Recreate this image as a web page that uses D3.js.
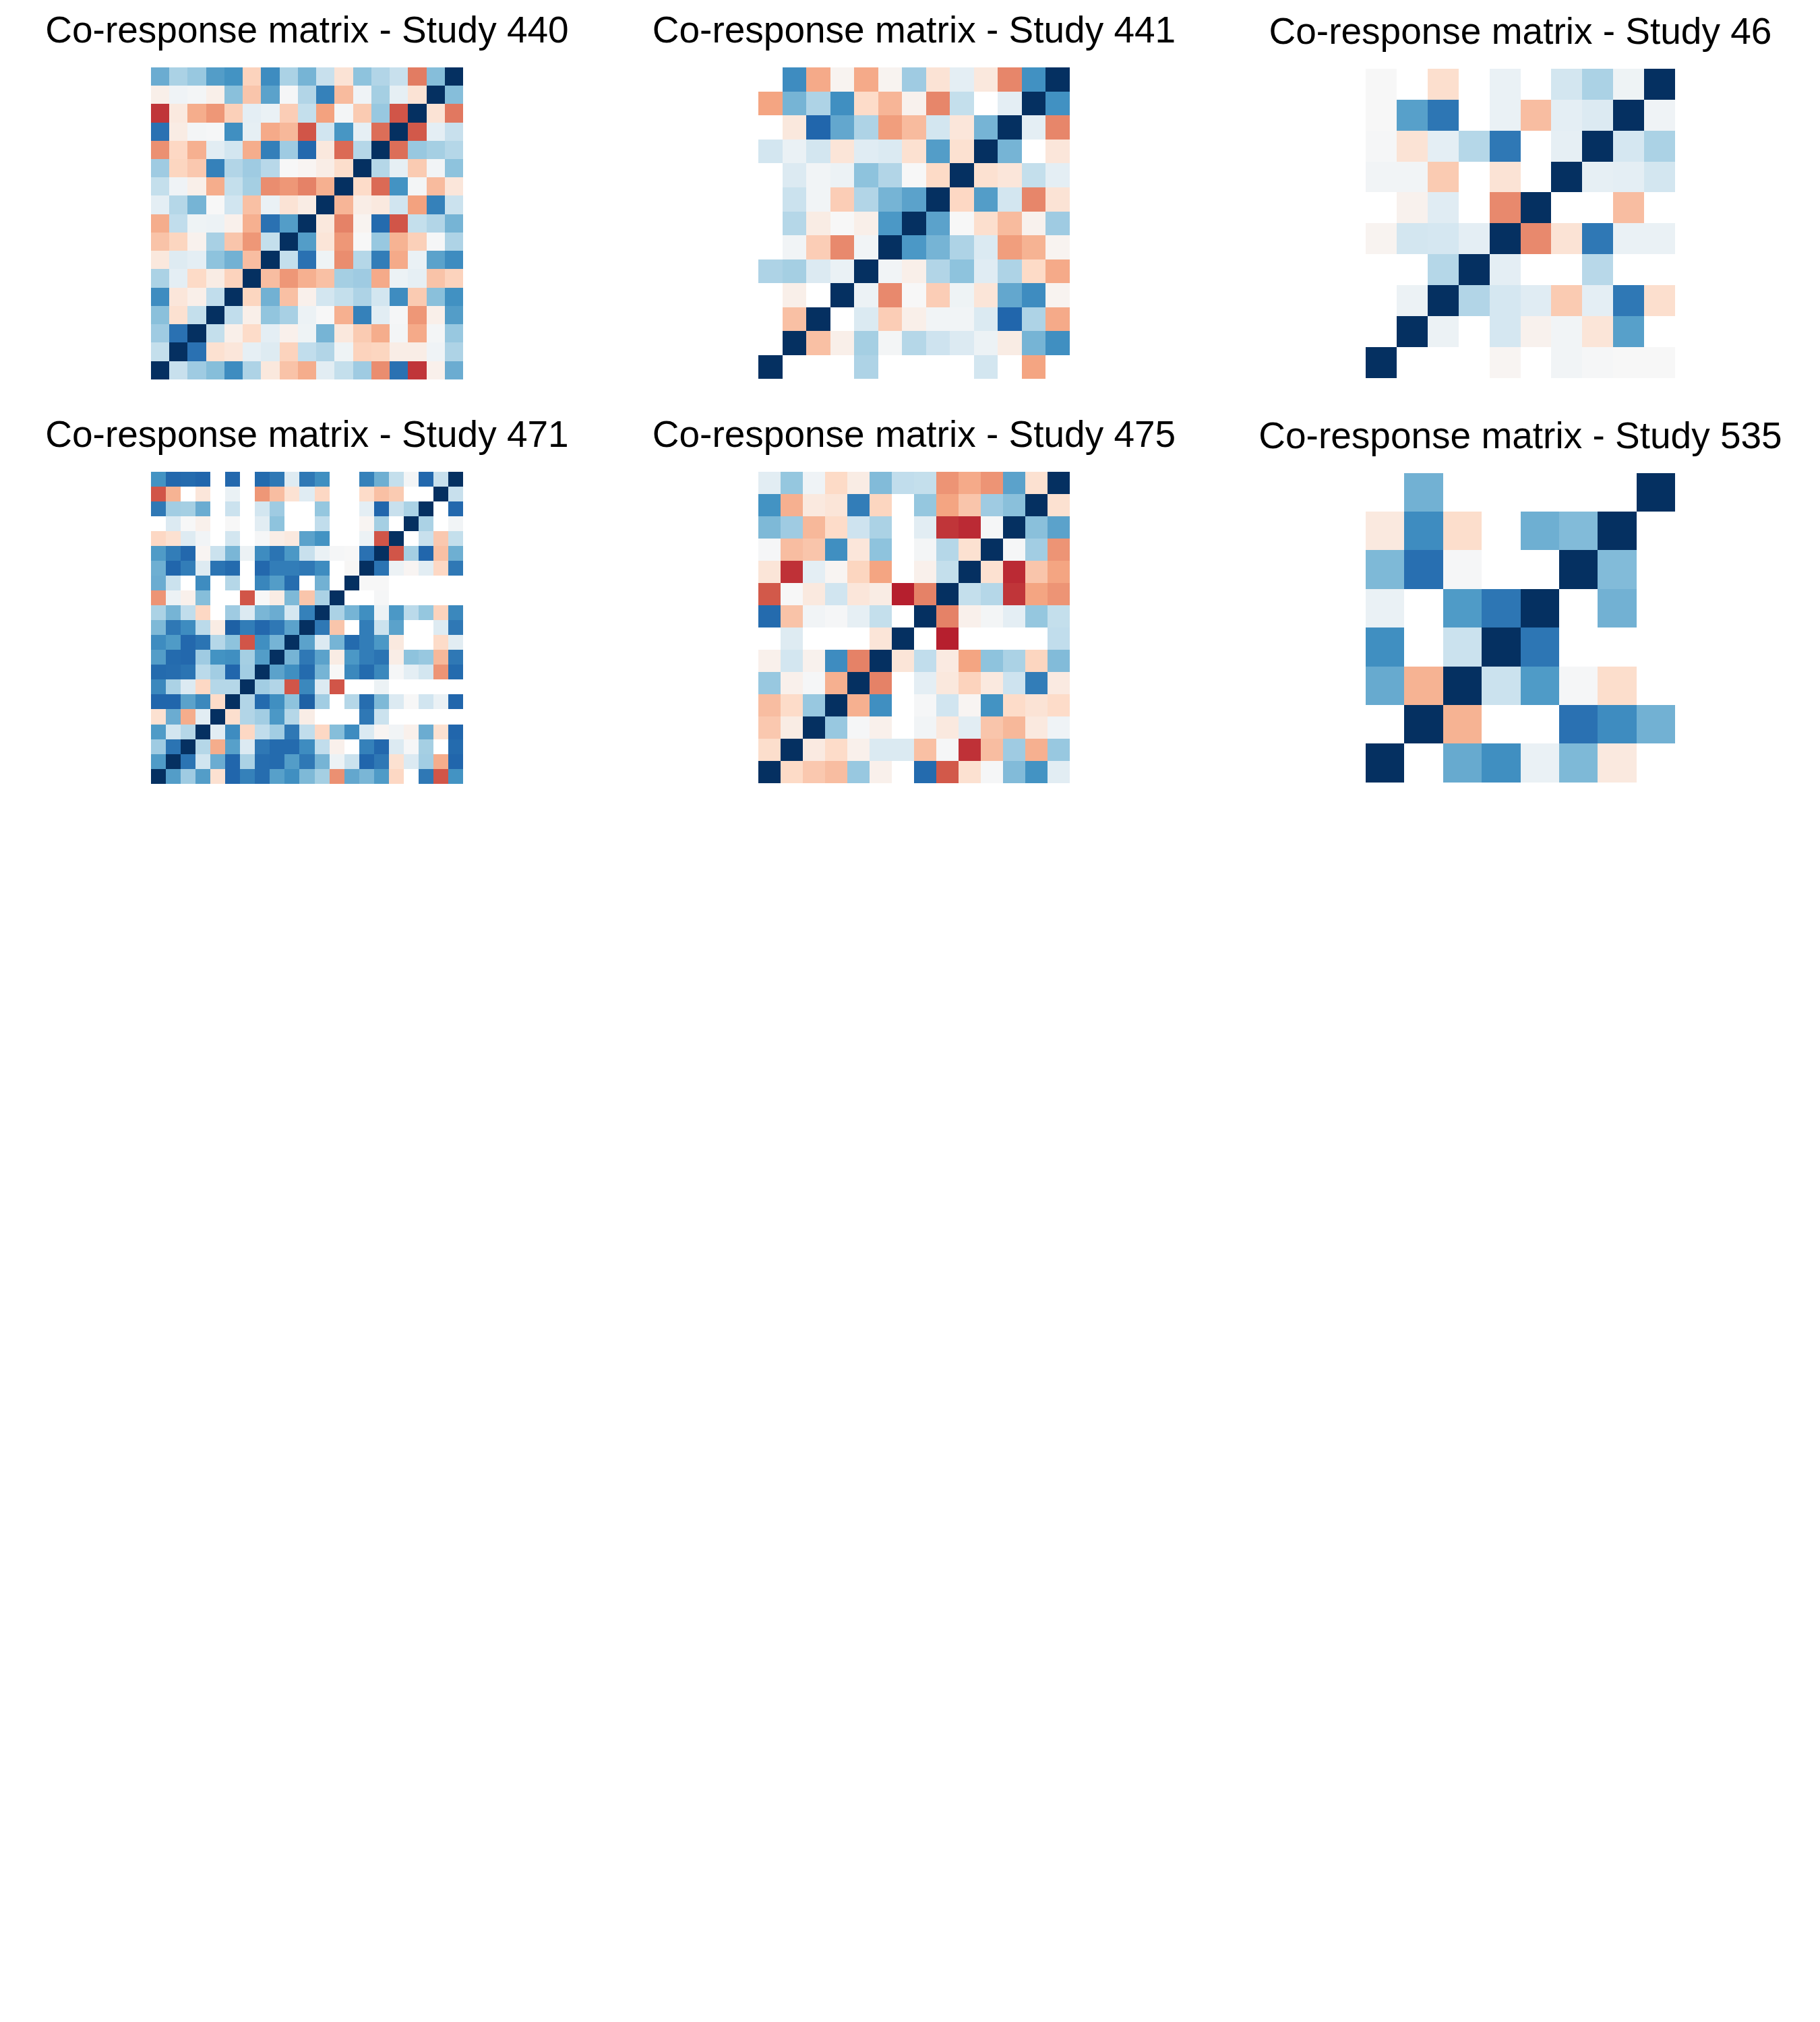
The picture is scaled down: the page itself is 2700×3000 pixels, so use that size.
<!DOCTYPE html>
<html><head><meta charset="utf-8">
<script src="https://cdn.jsdelivr.net/npm/d3@7"></script>
<style>body{margin:0;background:#fff} svg{display:block}</style>
</head><body>
<svg id="chart" width="2700" height="3000"></svg>
<script>
const N = null; // NaN cells (left blank)

const studyIds = ["440", "441", "46", "471", "475", "535"];

// rows listed top-to-bottom as displayed
const matrix440 = [
[0.5,0.32,0.38,0.56,0.6,-0.23,0.63,0.32,0.47,0.23,-0.14,0.41,0.3,0.23,-0.52,0.43,1],
[-0.06,0.04,0.02,-0.06,0.42,-0.28,0.54,0.01,0.3,0.68,-0.32,0.04,0.34,0.09,-0.14,1,0.43],
[-0.72,-0.1,-0.37,-0.44,-0.24,0.1,0.07,-0.25,0.24,-0.41,0.02,-0.26,0.38,-0.63,1,-0.14,-0.53],
[0.75,-0.08,0.02,0.01,0.62,0.09,-0.38,-0.33,-0.63,0.2,0.59,0.09,-0.56,1,-0.62,0.1,0.23],
[-0.46,-0.21,-0.36,0.11,0.19,-0.37,0.69,0.36,0.79,-0.11,-0.57,0.29,1,-0.56,0.38,0.34,0.29],
[0.36,-0.22,-0.27,0.68,0.3,0.36,0.28,0,-0.02,-0.07,-0.18,1,0.29,0.09,-0.26,0.03,0.41],
[0.24,0.04,-0.06,-0.37,0.24,0.34,-0.47,-0.44,-0.5,-0.36,1,-0.19,-0.57,0.6,0.02,-0.32,-0.12],
[0.1,0.29,0.47,0,0.2,-0.3,0.07,-0.14,-0.08,1,-0.34,-0.07,-0.1,0.2,-0.41,0.68,0.22],
[-0.37,0.25,0.05,0.06,-0.05,-0.36,0.75,0.56,1,-0.11,-0.5,-0.03,0.78,-0.63,0.24,0.3,0.47],
[-0.29,-0.22,-0.04,0.33,-0.28,-0.44,0.24,1,0.56,-0.13,-0.44,0,0.38,-0.35,-0.24,0.01,0.31],
[-0.11,0.13,0.1,0.41,0.48,-0.31,1,0.24,0.75,0.05,-0.47,0.29,0.7,-0.38,0.07,0.54,0.63],
[0.32,0.1,-0.2,-0.08,-0.23,1,-0.31,-0.44,-0.36,-0.3,0.34,0.36,-0.38,0.06,0.09,-0.29,-0.23],
[0.63,-0.12,-0.06,0.25,1,-0.22,0.48,-0.3,-0.05,0.19,0.24,0.31,0.19,0.63,-0.26,0.42,0.61],
[0.42,-0.16,0.24,1,0.25,-0.06,0.4,0.33,0.06,0,-0.36,0.68,0.11,0.01,-0.44,-0.06,0.56],
[0.36,0.75,1,0.24,-0.06,-0.19,0.1,-0.05,0.05,0.47,-0.11,-0.26,-0.37,0.02,-0.38,0.02,0.38],
[0.24,1,0.75,-0.16,-0.12,0.09,0.13,-0.23,0.25,0.3,0.05,-0.23,-0.22,-0.07,-0.07,0.04,0.31],
[1,0.23,0.36,0.43,0.63,0.31,-0.11,-0.29,-0.37,0.11,0.24,0.36,-0.47,0.75,-0.72,-0.05,0.5]
];

const matrix441 = [
[N,0.63,-0.38,-0.03,-0.38,-0.03,0.36,-0.14,0.1,-0.11,-0.49,0.61,1],
[-0.4,0.47,0.31,0.62,-0.19,-0.34,-0.04,-0.49,0.24,N,0.1,1,0.61],
[N,-0.11,0.8,0.52,0.31,-0.42,-0.32,0.19,-0.12,0.47,1,0.1,-0.49],
[0.19,0.07,0.19,-0.13,0.12,0.15,-0.16,0.56,-0.16,1,0.47,N,-0.12],
[N,0.14,0.03,0.06,0.41,0.3,0,-0.2,1,-0.16,-0.12,0.24,0.1],
[N,0.22,0.03,-0.25,0.3,0.47,0.54,1,-0.21,0.56,0.19,-0.49,-0.14],
[N,0.29,-0.08,0,-0.06,0.58,1,0.54,0,-0.17,-0.32,-0.04,0.36],
[N,0.03,-0.25,-0.48,0.03,1,0.58,0.47,0.31,0.15,-0.42,-0.35,-0.03],
[0.31,0.34,0.14,0.07,1,0.03,-0.06,0.3,0.41,0.12,0.31,-0.2,-0.38],
[N,-0.06,N,1,0.06,-0.48,0,-0.25,0.05,-0.13,0.52,0.63,-0.03],
[N,-0.3,1,N,0.15,-0.25,-0.06,0.03,0.03,0.15,0.8,0.31,-0.38],
[N,1,-0.3,-0.06,0.34,0.02,0.29,0.21,0.14,0.06,-0.08,0.47,0.62],
[1,N,N,N,0.31,N,N,N,N,0.19,N,-0.4,N]
];

const matrix46 = [
[0,N,-0.17,N,0.07,N,0.19,0.32,0.05,1],
[0,0.55,0.73,N,0.07,-0.31,0.1,0.14,1,0.04],
[0.01,-0.14,0.1,0.29,0.72,N,0.09,1,0.18,0.32],
[0.03,0.03,-0.26,N,-0.14,N,1,0.09,0.1,0.19],
[N,-0.04,0.12,N,-0.48,1,N,N,-0.31,N],
[-0.03,0.19,0.18,0.1,1,-0.48,-0.14,0.72,0.07,0.07],
[N,N,0.29,1,0.1,N,N,0.28,N,N],
[N,0.06,1,0.3,0.18,0.12,-0.26,0.1,0.72,-0.17],
[N,1,0.06,N,0.18,-0.04,0.03,-0.13,0.55,N],
[1,N,N,N,-0.02,N,0.03,0.01,0,0]
];

const matrix471 = [
[0.6,0.79,0.78,0.8,N,0.79,N,0.78,0.72,0.13,0.72,0.62,N,N,0.68,0.49,0.24,0.02,0.79,0.23,1],
[-0.63,-0.35,N,-0.12,N,0.07,N,-0.44,-0.31,-0.15,0.12,-0.21,N,N,-0.19,-0.3,-0.26,N,N,1,0.23],
[0.72,0.35,0.34,0.5,N,0.22,N,0.19,0.36,N,N,0.39,N,N,0.1,0.8,0.23,0.32,1,N,0.79],
[N,0.14,0,-0.05,N,0,N,0.11,0.41,N,N,0.25,N,N,-0.02,0.34,N,1,0.32,N,0.03],
[-0.21,-0.16,0.13,0.03,N,0.19,N,0.01,-0.07,-0.1,0.54,0.6,N,N,0.06,-0.63,1,N,0.23,-0.27,0.24],
[0.57,0.7,0.79,-0.02,0.22,0.46,0.06,0.63,0.74,0.58,0.23,0.07,0.01,0,0.75,1,-0.63,0.34,0.8,-0.3,0.49],
[0.49,0.8,0.7,0.13,0.74,0.78,N,0.79,0.7,0.7,0.72,0.63,N,-0.01,1,0.74,0.06,-0.02,0.11,-0.21,0.72],
[0.5,0.22,N,0.63,N,0.29,N,0.66,0.56,0.77,N,0.48,N,1,0,0,N,N,N,N,N],
[-0.45,0.06,-0.05,0.43,N,N,-0.63,0,-0.08,0.45,-0.28,0.32,1,N,N,0.01,N,N,N,N,N],
[0.32,0.47,0.25,-0.21,N,0.36,0.14,0.46,0.5,0.18,0.68,1,0.32,0.47,0.62,0.06,0.58,0.27,0.39,-0.23,0.65],
[0.45,0.72,0.63,0.27,-0.08,0.82,0.7,0.79,0.72,0.54,1,0.72,-0.28,N,0.7,0.22,0.54,N,N,0.13,0.72],
[0.63,0.57,0.79,0.74,0.29,0.41,-0.63,0.62,0.47,1,0.54,0.14,0.47,0.78,0.7,0.58,-0.1,N,N,-0.19,0.11],
[0.56,0.78,0.79,0.36,0.6,0.62,0.34,0.56,1,0.47,0.72,0.54,-0.08,0.58,0.7,0.74,-0.07,0.41,0.38,-0.33,0.72],
[0.78,0.77,0.74,0.27,0.35,0.8,0.35,1,0.54,0.62,0.78,0.47,0,0.65,0.78,0.65,0.01,0.1,0.19,-0.45,0.78],
[0.65,0.32,0.14,-0.21,0.29,0.29,1,0.35,0.3,-0.63,0.65,0.14,-0.63,N,N,0.06,N,N,N,N,N],
[0.8,0.8,0.54,0.65,-0.19,1,0.3,0.78,0.62,0.41,0.82,0.35,N,0.29,0.77,0.45,0.14,0,0.2,0.07,0.8],
[-0.16,0.5,-0.37,0.11,1,-0.17,0.3,0.35,0.58,0.29,-0.07,N,N,N,0.72,0.22,N,N,N,N,N],
[0.57,0.19,0.29,1,0.11,0.63,-0.21,0.25,0.35,0.72,0.25,-0.21,0.43,0.63,0.15,-0.02,0.03,-0.05,0.5,-0.16,0.8],
[0.36,0.74,1,0.29,-0.37,0.55,0.14,0.72,0.78,0.78,0.63,0.25,-0.05,N,0.68,0.79,0.14,0.01,0.34,N,0.78],
[0.57,1,0.74,0.2,0.5,0.8,0.32,0.77,0.78,0.56,0.72,0.47,0.06,0.22,0.8,0.72,-0.16,0.14,0.35,-0.37,0.8],
[1,0.56,0.36,0.56,-0.16,0.8,0.68,0.77,0.55,0.62,0.45,0.34,-0.46,0.52,0.46,0.57,-0.21,N,0.72,-0.63,0.6]
];

const matrix475 = [
[0.11,0.39,0.04,-0.2,-0.08,0.44,0.25,0.24,-0.45,-0.38,-0.45,0.54,-0.16,1],
[0.6,-0.36,-0.1,-0.13,0.7,-0.22,N,0.39,-0.4,-0.28,0.36,0.42,1,-0.16],
[0.45,0.36,-0.33,-0.19,0.21,0.32,N,0.11,-0.72,-0.75,0.01,1,0.42,0.54],
[0.01,-0.31,-0.28,0.62,-0.12,0.41,N,0.02,0.29,-0.16,1,0.01,0.35,-0.45],
[-0.13,-0.73,0.1,-0.02,-0.22,-0.4,N,-0.05,0.24,1,-0.16,-0.75,-0.28,-0.4],
[-0.62,0,-0.1,0.2,-0.12,-0.08,-0.78,-0.5,1,0.24,0.29,-0.72,-0.4,-0.45],
[0.78,-0.29,0.03,0.01,0.09,0.24,N,1,-0.5,-0.05,0.02,0.1,0.39,0.24],
[N,0.13,N,N,N,-0.13,1,N,-0.78,N,N,N,N,0.25],
[-0.05,0.19,-0.04,0.63,-0.5,1,-0.13,0.25,-0.09,-0.4,0.41,0.32,-0.22,0.44],
[0.38,-0.05,0.01,-0.36,1,-0.5,N,0.1,-0.11,-0.23,-0.1,0.21,0.7,-0.09],
[-0.31,-0.19,0.38,1,-0.36,0.62,N,0.01,0.2,-0.02,0.6,-0.19,-0.14,-0.19],
[-0.27,-0.08,1,0.38,0.01,-0.05,N,0.03,-0.1,0.11,-0.28,-0.33,-0.1,0.04],
[-0.18,1,-0.09,-0.19,-0.05,0.15,0.15,-0.3,0.01,-0.73,-0.31,0.36,-0.36,0.38],
[1,-0.2,-0.27,-0.31,0.38,-0.05,N,0.78,-0.62,-0.16,0.01,0.44,0.6,0.11]
];

const matrix535 = [
[N,0.48,N,N,N,N,N,1],
[-0.1,0.63,-0.18,N,0.49,0.44,1,N],
[0.45,0.76,0.01,N,N,1,0.44,N],
[0.07,N,0.57,0.73,1,N,0.48,N],
[0.62,N,0.22,1,0.73,N,N,N],
[0.51,-0.35,1,0.22,0.57,0.01,-0.18,N],
[N,1,-0.35,N,N,0.75,0.63,0.48],
[1,N,0.51,0.62,0.07,0.45,-0.1,N]
];

const matrices = [matrix440, matrix441, matrix46, matrix471, matrix475, matrix535];

// RdBu colormap stops, value domain -1..1
const rdbu = ["#67001f","#b2182b","#d6604d","#f4a582","#fddbc7","#f7f7f7","#d1e5f0","#92c5de","#4393c3","#2166ac","#053061"];
const color = d3.scaleLinear()
  .domain(d3.range(11).map(i => -1 + i * 0.2))
  .range(rdbu)
  .interpolate(d3.interpolateRgb)
  .clamp(true);

// panel layout
const colCenters = [455.5, 1356, 2255.5];
const colSizes = [463, 462, 459];
const rowCenters = [331.3, 931.2];

const svg = d3.select("#chart");

matrices.forEach((m, k) => {
  const ci = k % 3, ri = Math.floor(k / 3);
  const size = colSizes[ci];
  const left = colCenters[ci] - size / 2;
  const top = rowCenters[ri] - size / 2;
  const n = m.length;
  const x = d3.scaleBand().domain(d3.range(n)).range([left, left + size]);
  const y = d3.scaleBand().domain(d3.range(n)).range([top, top + size]);

  const cells = [];
  m.forEach((row, r) => row.forEach((v, c) => { if (v !== null) cells.push({r, c, v}); }));

  const g = svg.append("g");
  g.selectAll("rect").data(cells).join("rect")
    .attr("x", d => x(d.c))
    .attr("y", d => y(d.r))
    .attr("width", x.bandwidth())
    .attr("height", y.bandwidth())
    .attr("fill", d => color(d.v))
    .attr("shape-rendering", "crispEdges");

  svg.append("text")
    .attr("x", colCenters[ci])
    .attr("y", top - 37)
    .attr("text-anchor", "middle")
    .attr("font-family", "'Liberation Sans', Arial, sans-serif")
    .attr("font-size", 55)
    .attr("fill", "#000")
    .text("Co-response matrix - Study " + studyIds[k]);
});
</script>
</body></html>
